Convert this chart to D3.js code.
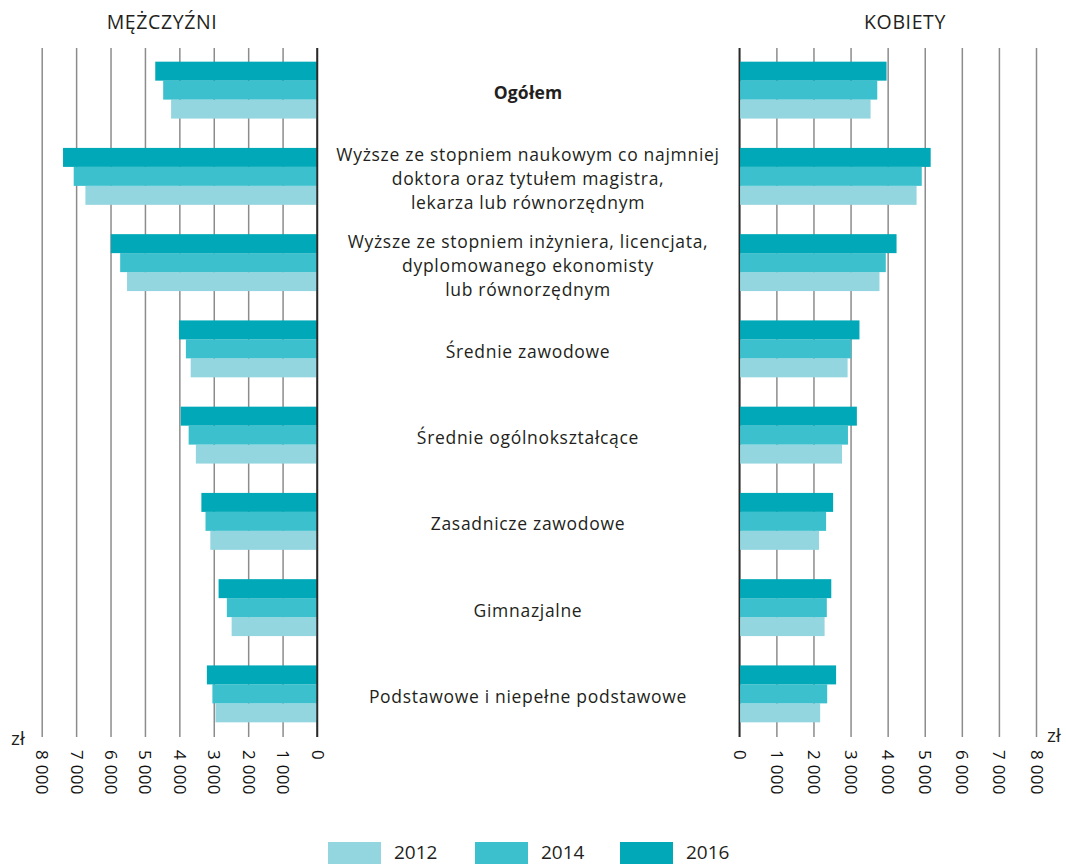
<!DOCTYPE html>
<html>
<head>
<meta charset="utf-8">
<script src="https://cdn.jsdelivr.net/npm/d3@7"></script>
<style>
  body { margin: 0; background: #fff; }
  svg { font-family: "Open Sans", "Noto Sans", sans-serif; }
</style>
</head>
<body>
<svg width="1066" height="864"></svg>
<script>
// categories, top to bottom
var categories = ["ogolem", "naukowy", "inzynier", "srednieZaw", "srednieOg", "zasadnicze", "gimnazjalne", "podstawowe"];
var categoryLines = [
  ["Ogółem"],
  ["Wyższe ze stopniem naukowym co najmniej", "doktora oraz tytułem magistra,", "lekarza lub równorzędnym"],
  ["Wyższe ze stopniem  inżyniera, licencjata,", "dyplomowanego ekonomisty", "lub równorzędnym"],
  ["Średnie zawodowe"],
  ["Średnie ogólnokształcące"],
  ["Zasadnicze zawodowe"],
  ["Gimnazjalne"],
  ["Podstawowe i niepełne podstawowe"]
];
var years = ["2012", "2014", "2016"];
var colors = ["#94d6df", "#3dc0cd", "#00a8b8"];

// men, zł
var men2012 = [4240, 6730, 5520, 3670, 3520, 3100, 2480, 2950];
var men2014 = [4470, 7070, 5720, 3810, 3730, 3240, 2620, 3040];
var men2016 = [4700, 7380, 5990, 4010, 3960, 3360, 2860, 3200];
// women, zł
var women2012 = [3540, 4780, 3780, 2920, 2770, 2150, 2300, 2180];
var women2014 = [3720, 4920, 3950, 3020, 2930, 2340, 2360, 2370];
var women2016 = [3970, 5160, 4240, 3240, 3170, 2530, 2480, 2610];

var ticks = [0, 1000, 2000, 3000, 4000, 5000, 6000, 7000, 8000];

var svg = d3.select("svg");
var top0 = 47, bottom0 = 737;

var xL = d3.scaleLinear().domain([0, 8000]).range([317, 41.7]);
var xR = d3.scaleLinear().domain([0, 8000]).range([739.3, 1036]);
var y = d3.scaleBand().domain(categories).range([top0, bottom0]).paddingInner(0.34).paddingOuter(0.17);
var yy = d3.scaleBand().domain(["2016", "2014", "2012"]).range([0, y.bandwidth()]);

var loc = d3.formatLocale({decimal: ",", thousands: "\u00a0", grouping: [3], currency: ["", " zł"]});
var fmt = loc.format(",");

// gridlines + tick labels via axes
function drawAxis(scale) {
  var g = svg.append("g")
    .attr("transform", "translate(0," + bottom0 + ")")
    .call(d3.axisBottom(scale).tickValues(ticks).tickFormat(fmt)
      .tickSizeInner(-(bottom0 - top0 - 1)).tickSizeOuter(0));
  g.attr("font-size", null).attr("font-family", null);
  g.select(".domain").remove();
  g.selectAll(".tick line")
    .attr("stroke", function(d) { return d === 0 ? "#2a2a2a" : "#8c8c8c"; })
    .attr("stroke-width", 1.5);
  g.selectAll(".tick text")
    .attr("transform", "rotate(90)")
    .attr("x", 13).attr("y", 0).attr("dy", "0.35em")
    .style("text-anchor", "start")
    .attr("fill", "#111")
    .style("font-size", "17px")
    .style("letter-spacing", "0.3px");
  return g;
}
drawAxis(xL);
drawAxis(xR);

var series = [
  {year: "2012", men: men2012, women: women2012, color: colors[0]},
  {year: "2014", men: men2014, women: women2014, color: colors[1]},
  {year: "2016", men: men2016, women: women2016, color: colors[2]}
];

series.forEach(function(s) {
  svg.append("g").selectAll("rect.m")
    .data(s.men).enter().append("rect")
    .attr("x", function(d) { return xL(d); })
    .attr("y", function(d, i) { return y(categories[i]) + yy(s.year); })
    .attr("width", function(d) { return xL(0) - xL(d); })
    .attr("height", yy.bandwidth())
    .attr("fill", s.color);
  svg.append("g").selectAll("rect.w")
    .data(s.women).enter().append("rect")
    .attr("x", xR(0))
    .attr("y", function(d, i) { return y(categories[i]) + yy(s.year); })
    .attr("width", function(d) { return xR(d) - xR(0); })
    .attr("height", yy.bandwidth())
    .attr("fill", s.color);
});

// zero lines on top
[xL(0), xR(0)].forEach(function(x0) {
  svg.append("line").attr("x1", x0).attr("x2", x0).attr("y1", top0 + 1).attr("y2", bottom0)
    .attr("stroke", "#2a2a2a").attr("stroke-width", 1.5);
});

// category labels
var lab = svg.append("g").attr("fill", "#231f20").style("font-size", "17.5px")
  .style("letter-spacing", "0.7px").attr("text-anchor", "middle");
categoryLines.forEach(function(lines, i) {
  var cy = y(categories[i]) + y.bandwidth() / 2 + 2;
  var n = lines.length;
  lines.forEach(function(t, j) {
    lab.append("text")
      .attr("x", 528)
      .attr("y", cy + (j - (n - 1) / 2) * 24)
      .attr("dominant-baseline", "central")
      .style("font-weight", i === 0 ? "bold" : "normal")
      .style("letter-spacing", i === 0 ? "0.2px" : null)
      .text(t);
  });
});

// panel titles
svg.append("text").attr("x", 162).attr("y", 29).attr("text-anchor", "middle")
  .style("font-size", "19.5px").style("letter-spacing", "0.6px").attr("fill", "#231f20").text("MĘŻCZYŹNI");
svg.append("text").attr("x", 905).attr("y", 29).attr("text-anchor", "middle")
  .style("font-size", "19.5px").style("letter-spacing", "0.6px").attr("fill", "#231f20").text("KOBIETY");

// units
svg.append("text").attr("x", 11).attr("y", 745).style("font-size", "19px").attr("fill", "#231f20").text("zł");
svg.append("text").attr("x", 1047).attr("y", 742).style("font-size", "19px").attr("fill", "#231f20").text("zł");

// legend
var legX = [328, 475, 620];
var leg = svg.append("g");
series.forEach(function(s, i) {
  leg.append("rect").attr("x", legX[i]).attr("y", 842).attr("width", 53).attr("height", 24).attr("fill", s.color);
  leg.append("text").attr("x", legX[i] + 66).attr("y", 859)
    .style("font-size", "19px").attr("fill", "#231f20").text(s.year);
});
</script>
</body>
</html>
